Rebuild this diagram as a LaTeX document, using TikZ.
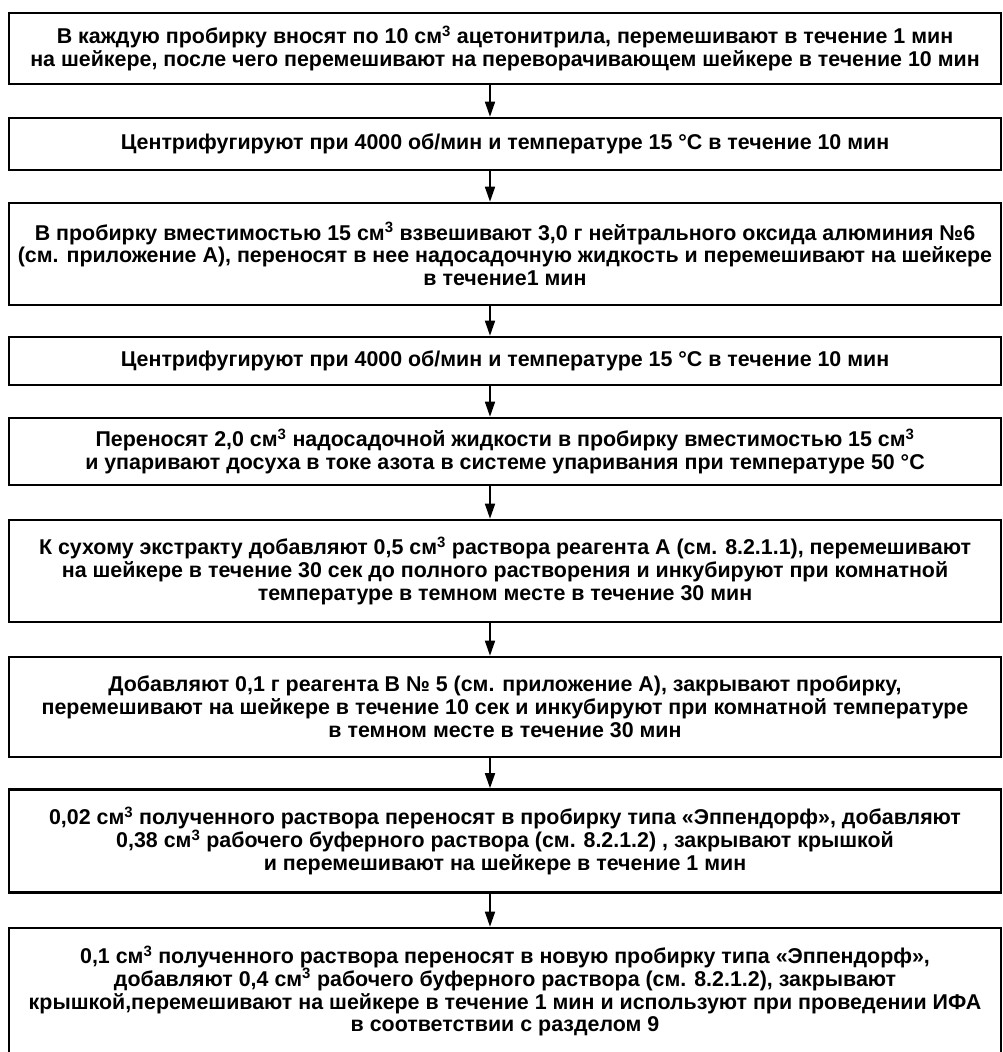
\documentclass[tikz,border=0pt]{standalone}
\usepackage{fontspec}
\setmainfont{Liberation Sans}
\usetikzlibrary{arrows.meta}
\tikzset{
  stepbox/.style={draw, line width=2.6pt, minimum width=992pt, inner sep=0pt, align=center,
    font=\fontsize{21.4pt}{22.8pt}\selectfont\bfseries},
  arr/.style={line width=1.6pt, -{Triangle[length=15pt,width=10pt]}}
}
\newcommand{\cmc}{см\textsuperscript{3}}
\begin{document}
\begin{tikzpicture}[x=1pt,y=-1pt]
\useasboundingbox (0,0) rectangle (1003,1052);
\coordinate (ax) at (490,0);
\node[stepbox, minimum height=71pt] (b1) at (505,48.5) {В каждую пробирку вносят по 10 \cmc{} ацетонитрила, перемешивают в течение 1 мин\\на шейкере, после чего перемешивают на переворачивающем шейкере в течение 10 мин};
\node[stepbox, minimum height=52pt] (b2) at (505,144) {Центрифугируют при 4000 об/мин и температуре 15 °С в течение 10 мин};
\node[stepbox, minimum height=102pt] (b3) at (505,254) {В пробирку вместимостью 15 \cmc{} взвешивают 3,0 г нейтрального оксида алюминия №6\\(см. приложение А), переносят в нее надосадочную жидкость и перемешивают на шейкере\\в течение1 мин};
\node[stepbox, minimum height=48pt] (b4) at (505,361) {Центрифугируют при 4000 об/мин и температуре 15 °С в течение 10 мин};
\node[stepbox, minimum height=67pt] (b5) at (505,451.5) {Переносят 2,0 \cmc{} надосадочной жидкости в пробирку вместимостью 15 \cmc\\и упаривают досуха в токе азота в системе упаривания при температуре 50 °С};
\node[stepbox, minimum height=102pt] (b6) at (505,571) {К сухому экстракту добавляют 0,5 \cmc{} раствора реагента А (см. 8.2.1.1), перемешивают\\на шейкере в течение 30 сек до полного растворения и инкубируют при комнатной\\температуре в темном месте в течение 30 мин};
\node[stepbox, minimum height=100pt] (b7) at (505,707) {Добавляют 0,1 г реагента В № 5 (см. приложение А), закрывают пробирку,\\перемешивают на шейкере в течение 10 сек и инкубируют при комнатной температуре\\в темном месте в течение 30 мин};
\node[stepbox, minimum height=103pt] (b8) at (505,841) {0,02 \cmc{} полученного раствора переносят в пробирку типа «Эппендорф», добавляют\\0,38 \cmc{} рабочего буферного раствора (см. 8.2.1.2) , закрывают крышкой\\и перемешивают на шейкере в течение 1 мин};
\node[stepbox, minimum height=126pt] (b9) at (505,991) {0,1 \cmc{} полученного раствора переносят в новую пробирку типа «Эппендорф»,\\добавляют 0,4 \cmc{} рабочего буферного раствора (см. 8.2.1.2), закрывают\\крышкой,перемешивают на шейкере в течение 1 мин и используют при проведении ИФА\\в соответствии с разделом 9};
\foreach \a/\b in {b1/b2,b2/b3,b3/b4,b4/b5,b5/b6,b6/b7,b7/b8,b8/b9}
  \draw[arr] (\a.south -| ax) -- (\b.north -| ax);
\end{tikzpicture}
\end{document}
